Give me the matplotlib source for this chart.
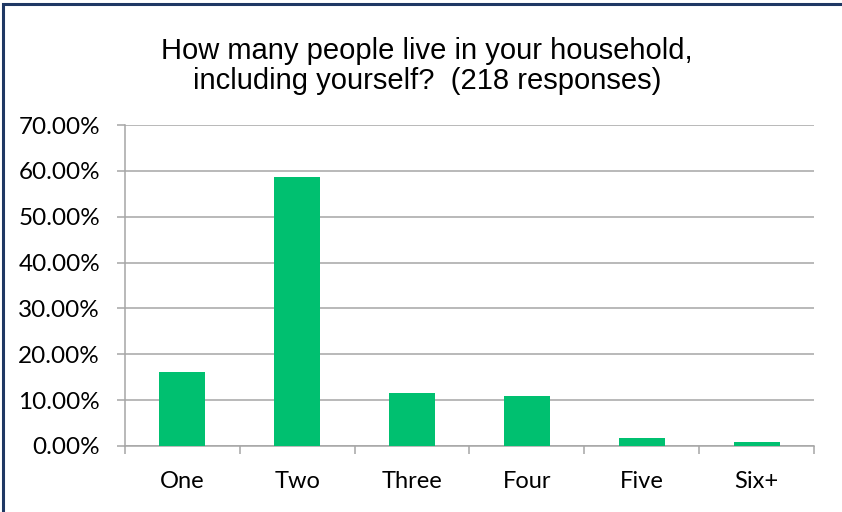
import numpy as np
import matplotlib.pyplot as plt
from matplotlib.patches import Rectangle
from matplotlib.ticker import FixedLocator, FuncFormatter

categories = ['One', 'Two', 'Three', 'Four', 'Five', 'Six+']
counts = [35, 128, 25, 24, 4, 2]          # out of 218 responses
total = 218
shares = [c / total for c in counts]

W, H = 842, 512
fig = plt.figure(figsize=(W / 100, H / 100), dpi=100)

# left/top frame line
fig.patches.append(Rectangle((3 / W, -0.1), 1.2, (H - 4) / H + 0.1,
                             transform=fig.transFigure, fill=False,
                             edgecolor='#1F3864', linewidth=2.2))

ax = fig.add_axes([125 / W, (H - 446) / H, (814 - 125) / W, (446 - 125) / H])

ind = np.arange(len(categories))
ax.bar(ind, shares, 0.4, color='#00C070', zorder=3)

ax.set_xlim(-0.5, len(categories) - 0.5)
ax.set_ylim(0, 0.7)
ax.set_yticks(np.arange(0, 0.71, 0.1))
ax.yaxis.set_major_formatter(FuncFormatter(lambda v, p: '%.2f%%' % (v * 100)))
ax.grid(axis='y', color='#A6A6A6', linewidth=1.1, zorder=0)

ax.set_xticks(ind)
ax.set_xticklabels(categories)
ax.xaxis.set_minor_locator(FixedLocator(np.arange(-0.5, len(categories), 1.0)))
ax.tick_params(axis='x', which='major', length=0, pad=18)
ax.tick_params(axis='x', which='minor', length=6, width=1.1, color='#A6A6A6',
               direction='out')
ax.tick_params(axis='y', length=6, width=1.1, color='#A6A6A6', pad=12,
               direction='out')

for lab in ax.get_yticklabels():
    lab.set_fontfamily('Lato')
    lab.set_fontsize(17.5)
for lab in ax.get_xticklabels():
    lab.set_fontfamily('Lato')
    lab.set_fontsize(17)

for side in ('top', 'right'):
    ax.spines[side].set_visible(False)
for side in ('left', 'bottom'):
    ax.spines[side].set_color('#A6A6A6')
    ax.spines[side].set_linewidth(1.1)

fig.text(427 / W, 1 - 66 / H, 'How many people live in your household,\n'
         'including yourself?  (218 responses)', ha='center', va='center',
         fontsize=21, family='Liberation Sans', linespacing=1.1)

fig.savefig('out.png', dpi=100, facecolor='white')
